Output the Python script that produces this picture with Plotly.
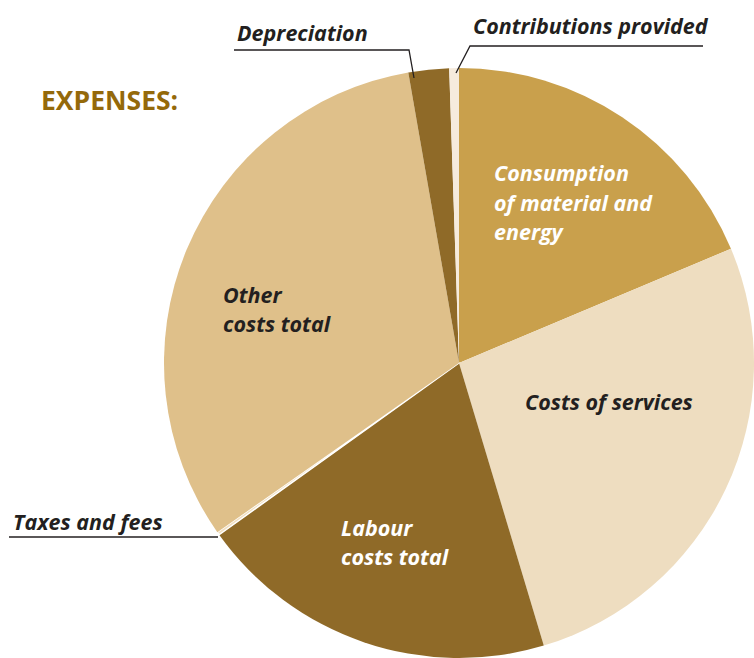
import plotly.graph_objects as go

W, H = 754, 658

# slice data, clockwise from 12 o'clock (shares in %)
categories = ["Consumption of material and energy", "Costs of services", "Labour costs total",
              "Taxes and fees", "Other costs total", "Depreciation", "Contributions provided"]
shares = [18.67, 26.69, 19.75, 0.17, 31.97, 2.22, 0.53]
colors = ["#C9A04C", "#EEDDC0", "#8F6A28", "#F1DFC0", "#DFC08A", "#8F6A28", "#F6EBDD"]
line_widths = [0, 0, 0, 1.5, 0, 0, 0]


def px(x):
    return x / W


def py(y):
    return 1 - y / H


# pie centre and radius in pixels
cx, cy, r = 459, 363, 295

fig = go.Figure(go.Pie(
    labels=categories,
    values=shares,
    sort=False,
    direction="clockwise",
    rotation=0,
    hole=0,
    textinfo="none",
    hoverinfo="label+percent",
    marker=dict(colors=colors, line=dict(color="white", width=line_widths)),
    domain=dict(x=[px(cx - r), min(1, px(cx + r))], y=[max(0, py(cy + r)), py(cy - r)]),
    showlegend=False,
))

lab_font = dict(family="'Open Sans', Lato, sans-serif", size=21.5, color="#231F20")
white_font = dict(lab_font, color="#FFFFFF")

# (text, x, y, font) - left aligned, y = line centre
labels = [
    ("<b><i>Consumption</i></b>", 492, 172, white_font),
    ("<b><i>of material and</i></b>", 492, 202, white_font),
    ("<b><i>energy</i></b>", 492, 232, white_font),
    ("<b><i>Costs of services</i></b>", 523, 402, lab_font),
    ("<b><i>Other</i></b>", 221, 294, lab_font),
    ("<b><i>costs total</i></b>", 221, 323, lab_font),
    ("<b><i>Labour</i></b>", 339, 527, white_font),
    ("<b><i>costs total</i></b>", 339, 556, white_font),
    ("<b><i>Depreciation</i></b>", 235, 32, lab_font),
    ("<b><i>Contributions provided</i></b>", 471, 25, lab_font),
    ("<b><i>Taxes and fees</i></b>", 11, 521, lab_font),
]

annotations = [
    dict(text=t, x=px(x), y=py(y), xref="paper", yref="paper", xanchor="left", yanchor="middle",
         showarrow=False, font=f)
    for t, x, y, f in labels
]
annotations.append(dict(
    text="<b>EXPENSES:</b>", x=px(39), y=py(100), xref="paper", yref="paper",
    xanchor="left", yanchor="middle", showarrow=False,
    font=dict(family="'Open Sans', Lato, sans-serif", size=26.5, color="#94690A"),
))

# leader lines
leaders = [
    [(234, 50), (409, 50), (414, 78)],
    [(703, 46), (470, 46), (456, 73)],
    [(9, 537), (218, 537)],
]
shapes = []
for pts in leaders:
    path = "M " + " L ".join(f"{px(x)},{py(y)}" for x, y in pts)
    shapes.append(dict(type="path", path=path, xref="paper", yref="paper",
                       line=dict(color="#231F20", width=1.3)))

fig.update_layout(
    width=W, height=H,
    margin=dict(l=0, r=0, t=0, b=0),
    paper_bgcolor="white",
    plot_bgcolor="white",
    annotations=annotations,
    shapes=shapes,
)

# drop the default page margin so the figure fills the window exactly
fig.write_html(
    "out.html",
    config={"displayModeBar": False},
    post_script="document.body.style.margin='0';document.body.style.overflow='hidden';",
)
